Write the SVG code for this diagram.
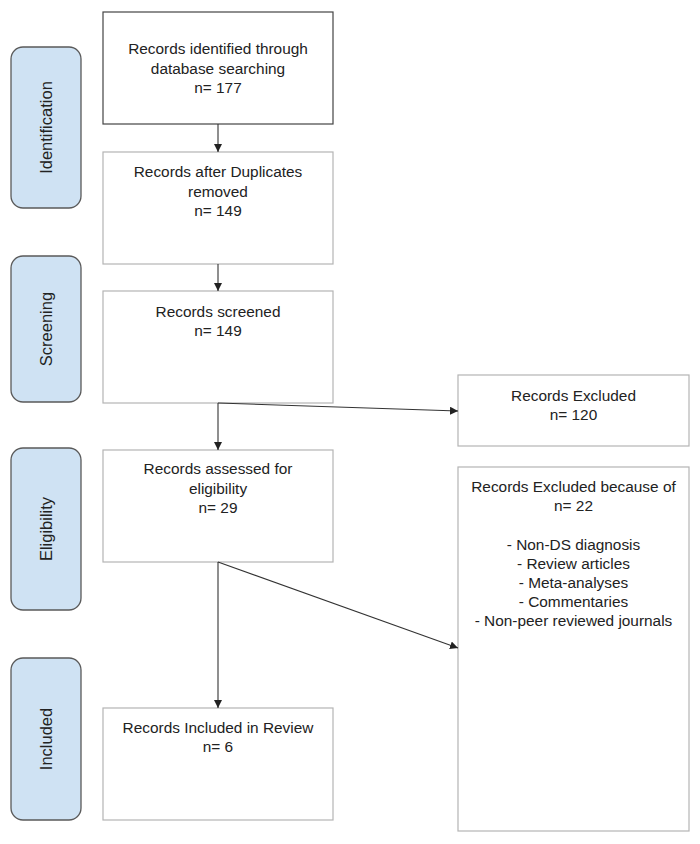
<svg xmlns="http://www.w3.org/2000/svg" width="700" height="844" viewBox="0 0 700 844">
  <style>
    .bg { fill: #ffffff; }
    .box { fill: #ffffff; stroke: #b4b4b4; stroke-width: 1.2; }
    .box-dark { fill: #ffffff; stroke: #444444; stroke-width: 1.2; }
    .phase { fill: #cfe2f3; stroke: #5a5a5a; stroke-width: 1.3; }
    .t { font-family: "Liberation Sans", Arial, sans-serif; font-size: 15.4px; fill: #222222; text-anchor: middle; }
    .pt { font-family: "Liberation Sans", Arial, sans-serif; font-size: 16.5px; fill: #222222; text-anchor: middle; }
    .conn { stroke: #333333; stroke-width: 1.1; fill: none; }
  </style>
  <defs>
    <marker id="arrow" markerWidth="10" markerHeight="10" refX="8" refY="4" orient="auto" markerUnits="userSpaceOnUse">
      <path d="M0,0 L8,4 L0,8 Z" fill="#222222"/>
    </marker>
  </defs>

  <rect class="bg" x="0" y="0" width="700" height="844"/>

  <!-- phase labels -->
  <g id="phase-identification">
    <rect class="phase" x="11" y="47" width="70" height="161" rx="12"/>
    <text class="pt" transform="translate(52,127.5) rotate(-90)">Identification</text>
  </g>
  <g id="phase-screening">
    <rect class="phase" x="11" y="256" width="70" height="146" rx="12"/>
    <text class="pt" transform="translate(52,329) rotate(-90)">Screening</text>
  </g>
  <g id="phase-eligibility">
    <rect class="phase" x="11" y="448" width="70" height="162" rx="12"/>
    <text class="pt" transform="translate(52,529) rotate(-90)">Eligibility</text>
  </g>
  <g id="phase-included">
    <rect class="phase" x="11" y="658" width="70" height="162" rx="12"/>
    <text class="pt" transform="translate(52,739) rotate(-90)">Included</text>
  </g>

  <!-- main flow boxes -->
  <g id="identified">
    <rect class="box-dark" x="103" y="12" width="230" height="112"/>
    <text class="t" x="218" y="54">Records identified through</text>
    <text class="t" x="218" y="73.5">database searching</text>
    <text class="t" x="218" y="93">n= 177</text>
  </g>
  <g id="deduplicated">
    <rect class="box" x="103" y="152" width="230" height="112"/>
    <text class="t" x="218" y="177">Records after Duplicates</text>
    <text class="t" x="218" y="196.5">removed</text>
    <text class="t" x="218" y="216">n= 149</text>
  </g>
  <g id="screened">
    <rect class="box" x="103" y="291" width="230" height="112"/>
    <text class="t" x="218" y="317">Records screened</text>
    <text class="t" x="218" y="336">n= 149</text>
  </g>
  <g id="assessed">
    <rect class="box" x="103" y="450" width="230" height="112"/>
    <text class="t" x="218" y="474">Records assessed for</text>
    <text class="t" x="218" y="493.5">eligibility</text>
    <text class="t" x="218" y="513">n= 29</text>
  </g>
  <g id="included">
    <rect class="box" x="103" y="708" width="230" height="112"/>
    <text class="t" x="218" y="733">Records Included in Review</text>
    <text class="t" x="218" y="752">n= 6</text>
  </g>

  <!-- exclusion boxes -->
  <g id="excluded">
    <rect class="box" x="458" y="375" width="231" height="71"/>
    <text class="t" x="573.5" y="401">Records Excluded</text>
    <text class="t" x="573.5" y="420">n= 120</text>
  </g>
  <g id="excluded-reasons">
    <rect class="box" x="458" y="467" width="231" height="364"/>
    <text class="t" x="573.5" y="492">Records Excluded because of</text>
    <text class="t" x="573.5" y="511">n= 22</text>
    <text class="t" x="573.5" y="550">- Non-DS diagnosis</text>
    <text class="t" x="573.5" y="569">- Review articles</text>
    <text class="t" x="573.5" y="588">- Meta-analyses</text>
    <text class="t" x="573.5" y="607">- Commentaries</text>
    <text class="t" x="573.5" y="626">- Non-peer reviewed journals</text>
  </g>

  <!-- connectors -->
  <g id="connectors">
    <line class="conn" x1="218" y1="124" x2="218" y2="152" marker-end="url(#arrow)"/>
    <line class="conn" x1="218" y1="264" x2="218" y2="291" marker-end="url(#arrow)"/>
    <line class="conn" x1="218" y1="403" x2="218" y2="450" marker-end="url(#arrow)"/>
    <line class="conn" x1="218" y1="403" x2="458" y2="411" marker-end="url(#arrow)"/>
    <line class="conn" x1="218" y1="562" x2="218" y2="708" marker-end="url(#arrow)"/>
    <line class="conn" x1="218" y1="562" x2="458" y2="648" marker-end="url(#arrow)"/>
  </g>
</svg>
